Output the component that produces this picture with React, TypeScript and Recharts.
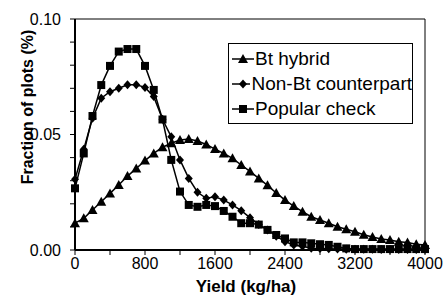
import { LineChart, Line, XAxis, YAxis, Legend, ReferenceLine, Label } from "recharts";

const yields = [
  0, 100, 200, 300, 400, 500, 600, 700, 800, 900, 1000, 1100, 1200, 1300, 1400, 1500, 1600, 1700, 1800, 1900,
  2000, 2100, 2200, 2300, 2400, 2500, 2600, 2700, 2800, 2900, 3000, 3100, 3200, 3300, 3400, 3500, 3600, 3700,
  3800, 3900, 4000,
];

const btHybrid = [
  0.0116, 0.0137, 0.0173, 0.0209, 0.0245, 0.0281, 0.032, 0.0353, 0.0387, 0.0418, 0.0445, 0.0462, 0.0476,
  0.048, 0.0472, 0.0457, 0.0437, 0.0418, 0.0397, 0.0368, 0.034, 0.031, 0.028, 0.0247, 0.0216, 0.019, 0.0166,
  0.0144, 0.013, 0.0116, 0.0101, 0.009, 0.0079, 0.0066, 0.0056, 0.0048, 0.0043, 0.0036, 0.0032, 0.0025, 0.0022,
];

const nonBt = [
  0.0306, 0.0436, 0.057, 0.0657, 0.0685, 0.07, 0.0715, 0.0715, 0.0704, 0.0664, 0.0566, 0.049, 0.039, 0.031,
  0.025, 0.0224, 0.023, 0.0216, 0.0195, 0.017, 0.014, 0.011, 0.0087, 0.006, 0.0036, 0.0022, 0.0016, 0.0008,
  0.0007, 0.0005, 0.0004, 0.0003, 0.0003, 0.0003, 0.0003, 0.0002, 0.0002, 0.0002, 0.0002, 0.0002, 0.0002,
];

const popularCheck = [
  0.0267, 0.0418, 0.058, 0.0714, 0.0797, 0.0859, 0.087, 0.087, 0.0797, 0.0693, 0.0565, 0.039, 0.0253, 0.0195,
  0.0187, 0.0195, 0.019, 0.0169, 0.0144, 0.0116, 0.0116, 0.011, 0.0087, 0.0065, 0.005, 0.0033, 0.0033, 0.0029,
  0.0025, 0.0022, 0.0014, 0.0007, 0.0004, 0.0004, 0.0004, 0.0004, 0.0004, 0.0004, 0.0004, 0.0004, 0.0004,
];

const xTicks = [0, 400, 800, 1200, 1600, 2000, 2400, 2800, 3200, 3600, 4000];
const yTicks = [0, 0.01, 0.02, 0.03, 0.04, 0.05, 0.06, 0.07, 0.08, 0.09, 0.1];
const yLabelled = ["0.00", "0.05", "0.10"];

const data = yields.map((y, i) => ({
  yield: y,
  bt: btHybrid[i],
  nonBt: nonBt[i],
  check: popularCheck[i],
}));

const FONT = "'Liberation Sans', Arial, Helvetica, sans-serif";

function Triangle({ cx, cy }: { cx: number; cy: number }) {
  return <polygon points={`${cx},${cy - 5} ${cx - 5},${cy + 4} ${cx + 5},${cy + 4}`} fill="#000" />;
}
function Diamond({ cx, cy }: { cx: number; cy: number }) {
  return <polygon points={`${cx},${cy - 4.5} ${cx + 4},${cy} ${cx},${cy + 4.5} ${cx - 4},${cy}`} fill="#000" />;
}
function Square({ cx, cy }: { cx: number; cy: number }) {
  return <rect x={cx - 4} y={cy - 4} width={8} height={8} fill="#000" />;
}

const legendItems = [
  { label: "Bt hybrid", Marker: Triangle },
  { label: "Non-Bt counterpart", Marker: Diamond },
  { label: "Popular check", Marker: Square },
];

function LegendBox() {
  return (
    <div
      style={{
        border: "1px solid #000",
        background: "#fff",
        width: 183,
        height: 77,
        boxSizing: "content-box",
        fontFamily: FONT,
        fontSize: 19,
        color: "#000",
        paddingTop: 2,
      }}
    >
      {legendItems.map(({ label, Marker }) => (
        <div key={label} style={{ display: "flex", alignItems: "center", height: 25, whiteSpace: "nowrap" }}>
          <svg width={22} height={14} style={{ marginLeft: 3, marginRight: 1 }}>
            <line x1={0} y1={7} x2={22} y2={7} stroke="#000" strokeWidth={1.5} />
            <Marker cx={11} cy={7} />
          </svg>
          <span>{label}</span>
        </div>
      ))}
    </div>
  );
}

export default function App() {
  return (
    <div style={{ position: "absolute", left: 0, top: 0, background: "#fff" }}>
      <LineChart width={444} height={295} data={data} margin={{ top: 19, right: 19, left: 0, bottom: 0 }}>
        <XAxis
          dataKey="yield"
          type="number"
          domain={[0, 4000]}
          ticks={xTicks}
          interval={0}
          tickFormatter={(v: number) => (v % 800 === 0 ? String(v) : "")}
          tick={{ fill: "#000", fontSize: 16, fontFamily: FONT }}
          tickLine={{ stroke: "#000", strokeWidth: 1 }}
          axisLine={{ stroke: "#000", strokeWidth: 2 }}
          tickSize={5}
          tickMargin={3}
          height={45}
        >
          <Label
            content={() => (
              <text x={246} y={292} textAnchor="middle" fontFamily={FONT} fontSize={17} fontWeight="bold" fill="#000">
                Yield (kg/ha)
              </text>
            )}
          />
        </XAxis>
        <YAxis
          type="number"
          domain={[0, 0.1]}
          ticks={yTicks}
          interval={0}
          tickFormatter={(v: number) => (yLabelled.includes(v.toFixed(2)) ? v.toFixed(2) : "")}
          tick={{ fill: "#000", fontSize: 16, fontFamily: FONT }}
          tickLine={{ stroke: "#000", strokeWidth: 1 }}
          axisLine={{ stroke: "#000", strokeWidth: 2 }}
          tickSize={5}
          tickMargin={9}
          width={75}
        >
          <Label
            content={() => (
              <text
                x={33}
                y={107}
                transform="rotate(-90 33 107)"
                textAnchor="middle"
                fontFamily={FONT}
                fontSize={16}
                fontWeight="bold"
                fill="#000"
              >
                Fraction of plots (%)
              </text>
            )}
          />
        </YAxis>
        <ReferenceLine y={0.1} stroke="#000" strokeWidth={1} />
        <ReferenceLine x={4000} stroke="#000" strokeWidth={1} />
        <Legend
          layout="vertical"
          align="center"
          verticalAlign="middle"
          wrapperStyle={{ position: "absolute", left: 228, top: 43, width: "auto" }}
          content={() => <LegendBox />}
        />
        <Line
          dataKey="bt"
          name="Bt hybrid"
          stroke="#000"
          strokeWidth={1.5}
          isAnimationActive={false}
          dot={(p: any) => <Triangle key={`bt-${p.index}`} cx={p.cx} cy={p.cy} />}
        />
        <Line
          dataKey="nonBt"
          name="Non-Bt counterpart"
          stroke="#000"
          strokeWidth={1.5}
          isAnimationActive={false}
          dot={(p: any) => <Diamond key={`nb-${p.index}`} cx={p.cx} cy={p.cy} />}
        />
        <Line
          dataKey="check"
          name="Popular check"
          stroke="#000"
          strokeWidth={1.5}
          isAnimationActive={false}
          dot={(p: any) => <Square key={`pc-${p.index}`} cx={p.cx} cy={p.cy} />}
        />
      </LineChart>
    </div>
  );
}
